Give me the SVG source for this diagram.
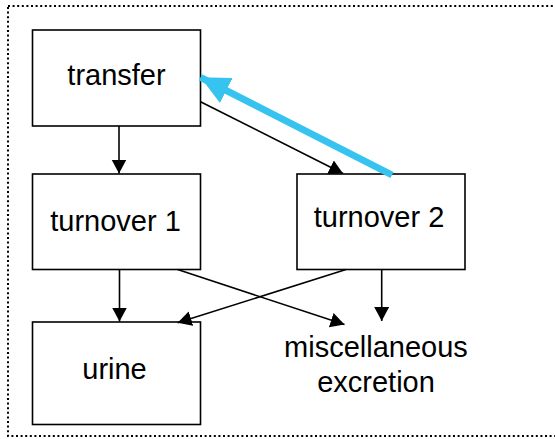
<svg xmlns="http://www.w3.org/2000/svg" width="555" height="439" viewBox="0 0 555 439">
  <style>
    .box { fill: #ffffff; stroke: #000000; stroke-width: 1.6; }
    .lbl { font-family: "Liberation Sans", Arial, sans-serif; font-size: 29px; fill: #000000; text-anchor: middle; }
    .edge { stroke: #000000; stroke-width: 1.6; fill: none; marker-end: url(#head); }
    .back { stroke: #36c3f0; stroke-width: 7; fill: none; marker-end: url(#bluehead); }
    .frame { fill: none; stroke: #000000; stroke-width: 2; stroke-dasharray: 2 2.6; }
  </style>
  <defs>
    <marker id="head" markerUnits="userSpaceOnUse" markerWidth="15" markerHeight="16" refX="14" refY="7.5" orient="auto">
      <path d="M0,0 L14,7.5 L0,15 z" fill="#000000"/>
    </marker>
    <marker id="bluehead" markerUnits="userSpaceOnUse" markerWidth="30" markerHeight="28" refX="29" refY="14" orient="auto">
      <path d="M0,0 L29,14 L0,28 z" fill="#36c3f0"/>
    </marker>
  </defs>

  <!-- dotted outer frame -->
  <rect class="frame" x="8" y="6" width="549" height="430"/>

  <g id="transfer">
    <rect class="box" x="32.5" y="30" width="168" height="96"/>
    <text class="lbl" x="116.5" y="85">transfer</text>
  </g>
  <g id="turnover1">
    <rect class="box" x="32.5" y="174" width="168" height="95.5"/>
    <text class="lbl" x="115.5" y="230.5">turnover 1</text>
  </g>
  <g id="turnover2">
    <rect class="box" x="297" y="174" width="168" height="95.5"/>
    <text class="lbl" x="379" y="227">turnover 2</text>
  </g>
  <g id="urine">
    <rect class="box" x="32.5" y="322" width="168" height="102.5"/>
    <text class="lbl" x="114.5" y="378.5">urine</text>
  </g>
  <g id="misc">
    <text class="lbl" x="376" y="356.5">miscellaneous</text>
    <text class="lbl" x="376" y="392">excretion</text>
  </g>

  <g id="connectors">
    <line class="edge" x1="119" y1="126" x2="119" y2="173.5"/>
    <line class="edge" x1="200.5" y1="101.7" x2="343" y2="173.5"/>
    <line class="edge" x1="119.5" y1="269.5" x2="119.5" y2="321.5"/>
    <line class="edge" x1="177.6" y1="269.5" x2="344.5" y2="324.6"/>
    <line class="edge" x1="346" y1="269.5" x2="177.6" y2="322.8"/>
    <line class="edge" x1="381.7" y1="269.5" x2="381.7" y2="321"/>
    <line class="back" x1="392" y1="175" x2="200.5" y2="77.3"/>
  </g>
</svg>
